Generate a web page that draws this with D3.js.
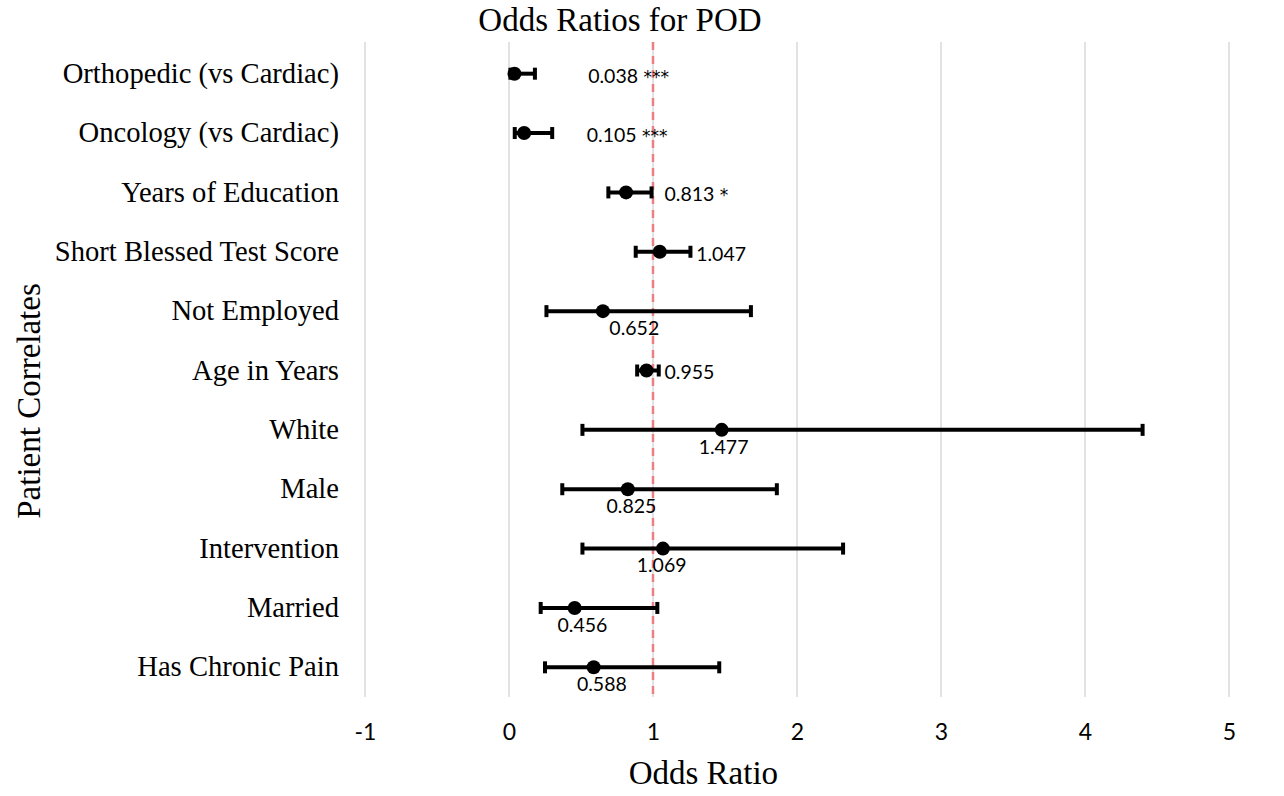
<!DOCTYPE html>
<html>
<head>
<meta charset="utf-8">
<script src="https://cdn.jsdelivr.net/npm/d3@7"></script>
<style>
  body { margin: 0; background: #fff; }
  .serif { font-family: "Liberation Serif", "Times New Roman", serif; fill: #000; }
  .sans { font-family: Lato, "Open Sans", sans-serif; fill: #000; }
</style>
</head>
<body>
<div id="chart"></div>
<script>
// data
var categories = ["Orthopedic (vs Cardiac)", "Oncology (vs Cardiac)", "Years of Education",
  "Short Blessed Test Score", "Not Employed", "Age in Years", "White", "Male",
  "Intervention", "Married", "Has Chronic Pain"];
var oddsRatios = [0.038, 0.105, 0.813, 1.047, 0.652, 0.955, 1.477, 0.825, 1.069, 0.456, 0.588];
var ciLow = [0.01, 0.04, 0.69, 0.88, 0.26, 0.89, 0.51, 0.37, 0.51, 0.22, 0.25];
var ciHigh = [0.18, 0.30, 0.99, 1.26, 1.68, 1.04, 4.40, 1.86, 2.32, 1.03, 1.46];
var stars = ["***", "***", "*", "", "", "", "", "", "", "", ""];
var xTicks = [-1, 0, 1, 2, 3, 4, 5];

// where each data label sits (Excel-style placement, in odds-ratio units)
var labelSide = ["right", "right", "right", "right", "below", "right", "below", "below", "below", "below", "below"];
var labelAt = [0.55, 0.54, 1.08, 1.30, 0.87, 1.08, 1.49, 0.85, 1.06, 0.51, 0.645];

var svgWidth = 1284;
var svgHeight = 796;
var margin = { top: 44, right: 55, bottom: 99, left: 365 };
var width = svgWidth - margin.left - margin.right;
var height = svgHeight - margin.top - margin.bottom;

var svg = d3.select("#chart")
  .append("svg")
  .attr("width", svgWidth)
  .attr("height", svgHeight);

var chartGroup = svg.append("g")
  .attr("transform", `translate(${margin.left}, ${margin.top})`);

var x = d3.scaleLinear().domain([-1, 5]).range([0, width]);
var y = d3.scaleBand().domain(categories).range([0, height]);

var rows = categories.map(function(c, i) {
  return { cat: c, or: oddsRatios[i], lo: ciLow[i], hi: ciHigh[i], star: stars[i], side: labelSide[i], at: labelAt[i] };
});

// vertical gridlines
chartGroup.selectAll(".grid")
  .data(xTicks)
  .enter()
  .append("line")
  .attr("x1", d => x(d))
  .attr("x2", d => x(d))
  .attr("y1", -2)
  .attr("y2", height)
  .attr("stroke", "#d9d9d9")
  .attr("stroke-width", 1.5);

// reference line at OR = 1
chartGroup.append("line")
  .attr("x1", x(1))
  .attr("x2", x(1))
  .attr("y1", -2)
  .attr("y2", height)
  .attr("stroke", "#eb7f84")
  .attr("stroke-width", 2.5)
  .attr("stroke-dasharray", "8,6");

// x axis tick labels
var bottomAxis = d3.axisBottom(x).tickValues(xTicks).tickSize(0).tickPadding(27)
  .tickFormat(d => String(d));
var xAxis = chartGroup.append("g")
  .attr("transform", `translate(0, ${height})`)
  .call(bottomAxis);
xAxis.select(".domain").remove();
xAxis.selectAll("text")
  .attr("class", "sans")
  .attr("font-size", "23px")
  .attr("fill", "#000");

// category labels
var leftAxis = d3.axisLeft(y).tickSize(0).tickPadding(26);
var yAxis = chartGroup.append("g").call(leftAxis);
yAxis.select(".domain").remove();
yAxis.selectAll("text")
  .attr("class", "serif")
  .attr("font-size", "28.6px")
  .attr("fill", "#000");

var rowGroup = chartGroup.selectAll(".row")
  .data(rows)
  .enter()
  .append("g")
  .attr("transform", d => `translate(0, ${y(d.cat) + y.bandwidth() / 2})`);

// error bars
rowGroup.append("line")
  .attr("x1", d => x(d.lo))
  .attr("x2", d => x(d.hi))
  .attr("stroke", "#000")
  .attr("stroke-width", 4);

rowGroup.append("line")
  .attr("x1", d => x(d.lo))
  .attr("x2", d => x(d.lo))
  .attr("y1", -6)
  .attr("y2", 6)
  .attr("stroke", "#000")
  .attr("stroke-width", 4);

rowGroup.append("line")
  .attr("x1", d => x(d.hi))
  .attr("x2", d => x(d.hi))
  .attr("y1", -6)
  .attr("y2", 6)
  .attr("stroke", "#000")
  .attr("stroke-width", 4);

rowGroup.append("circle")
  .attr("cx", d => x(d.or))
  .attr("r", 7)
  .attr("fill", "#000");

// value labels
var labels = rowGroup.append("text")
  .attr("class", "sans")
  .attr("font-size", "19.5px")
  .attr("x", d => x(d.at))
  .attr("y", d => d.side == "right" ? 2 : 17)
  .attr("dy", "0.35em")
  .attr("text-anchor", d => d.side == "right" ? "start" : "middle");

labels.append("tspan")
  .text(d => d.or.toFixed(3));

labels.filter(d => d.star)
  .append("tspan")
  .attr("font-family", "DejaVu Sans")
  .attr("font-size", "17px")
  .text(d => " " + d.star);

// titles
svg.append("text")
  .attr("class", "serif")
  .attr("x", 620)
  .attr("y", 31)
  .attr("text-anchor", "middle")
  .attr("font-size", "33px")
  .text("Odds Ratios for POD");

svg.append("text")
  .attr("class", "serif")
  .attr("x", margin.left + x(1.35))
  .attr("y", 784)
  .attr("text-anchor", "middle")
  .attr("font-size", "33px")
  .text("Odds Ratio");

svg.append("text")
  .attr("class", "serif")
  .attr("transform", "rotate(-90)")
  .attr("x", -401)
  .attr("y", 40)
  .attr("text-anchor", "middle")
  .attr("font-size", "33px")
  .text("Patient Correlates");
</script>
</body>
</html>
